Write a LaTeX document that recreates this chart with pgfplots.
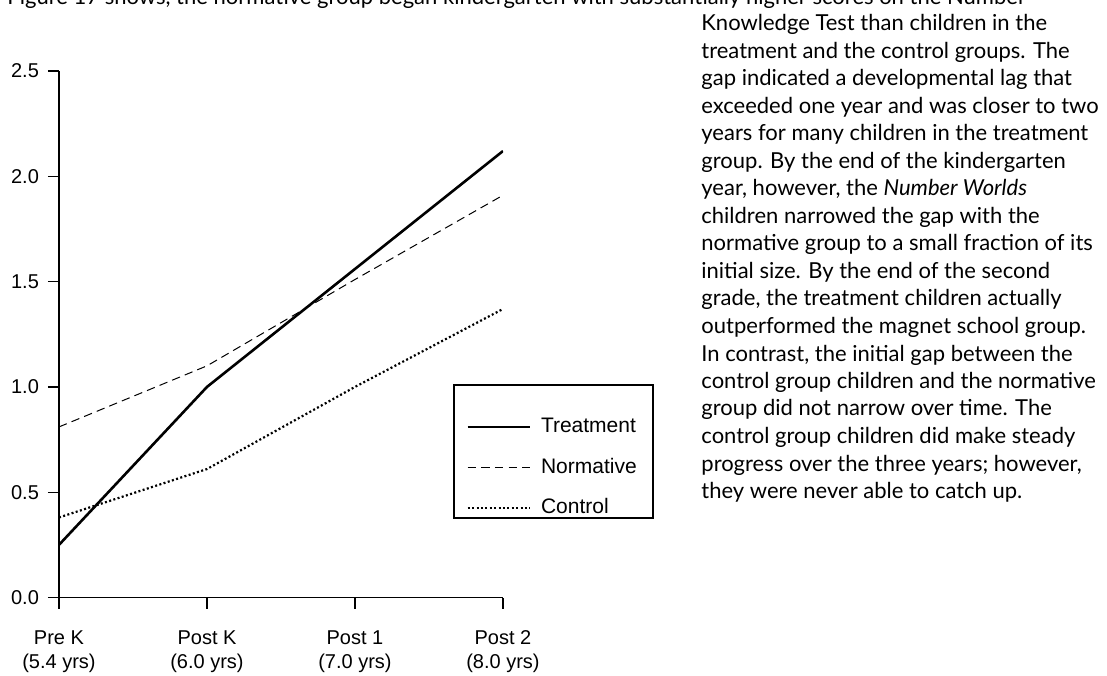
\documentclass[border=0pt]{standalone}
\usepackage{pgfplots}
\pgfplotsset{compat=1.18}
\usepackage{fontspec}
\setmainfont{Liberation Sans}
\newfontfamily\gill{Lato}
\newcommand\pline[2]{\node[anchor=base west,inner sep=0pt,font=\gill\fontsize{11}{13}\selectfont] at (350.5pt,{322pt-13.75pt*(#1-1)}) {#2};}
\begin{document}
\begin{tikzpicture}
\path[use as bounding box] (0,0) rectangle (553.5pt,337.5pt);
\clip (0,0) rectangle (553.5pt,337.5pt);
\begin{axis}[
  at={(29.5pt,38.75pt)}, anchor=south west,
  scale only axis, width=222pt, height=263.25pt,
  xmin=0, xmax=3, ymin=0, ymax=2.5,
  axis lines*=left,
  axis line style={line width=0.65pt},
  every tick/.style={line width=0.65pt, black},
  tick align=outside, major tick length=5.5pt,
  xtick={0,1,2,3},
  xticklabels={{Pre K\\(5.4 yrs)},{Post K\\(6.0 yrs)},{Post 1\\(7.0 yrs)},{Post 2\\(8.0 yrs)}},
  xticklabel style={align=center, font=\fontsize{10}{12}\selectfont, yshift=-7.5pt},
  ytick={0,0.5,1,1.5,2,2.5},
  yticklabels={0.0,0.5,1.0,1.5,2.0,2.5},
  yticklabel style={font=\fontsize{10}{12}\selectfont, xshift=-1pt},
  legend image code/.code={\draw[#1] (0pt,0pt) -- (31pt,0pt);},
  legend cell align=left,
  legend style={at={(axis cs:2.750,0.852)}, anchor=north west, draw=none, fill=none,
    font=\fontsize{10.5}{12.5}\selectfont, inner sep=0pt, column sep=5pt, row sep=11.1pt,
    nodes={inner sep=0pt}},
]
\addplot[black, line width=1.3pt] coordinates {(0,0.25) (1,1.0) (2,1.56) (3,2.12)};
\addlegendentry{Treatment}
\addplot[black, line width=0.5pt, dash pattern=on 4.2pt off 2.6pt] coordinates {(0,0.81) (1,1.10) (2,1.51) (3,1.91)};
\addlegendentry{Normative}
\addplot[black, line width=1.1pt, dash pattern=on 1pt off 1.2pt] coordinates {(0,0.38) (1,0.61) (2,1.0) (3,1.37)};
\addlegendentry{Control}
\end{axis}
\draw[line width=0.6pt] (227pt,145pt) rectangle (326.5pt,78.5pt);
\node[anchor=base west,inner sep=0pt,font=\gill\fontsize{11}{13}\selectfont] at (3.5pt,335pt) {Figure 17 shows, the normative group began kindergarten with substantially higher scores on the Number};
\pline{1}{Knowledge Test than children in the}
\pline{2}{treatment and the control groups. The}
\pline{3}{gap indicated a developmental lag that}
\pline{4}{exceeded one year and was closer to two}
\pline{5}{years for many children in the treatment}
\pline{6}{group. By the end of the kindergarten}
\pline{7}{year, however, the \textit{Number Worlds}}
\pline{8}{children narrowed the gap with the}
\pline{9}{normative group to a small fraction of its}
\pline{10}{initial size. By the end of the second}
\pline{11}{grade, the treatment children actually}
\pline{12}{outperformed the magnet school group.}
\pline{13}{In contrast, the initial gap between the}
\pline{14}{control group children and the normative}
\pline{15}{group did not narrow over time. The}
\pline{16}{control group children did make steady}
\pline{17}{progress over the three years; however,}
\pline{18}{they were never able to catch up.}
\end{tikzpicture}
\end{document}
